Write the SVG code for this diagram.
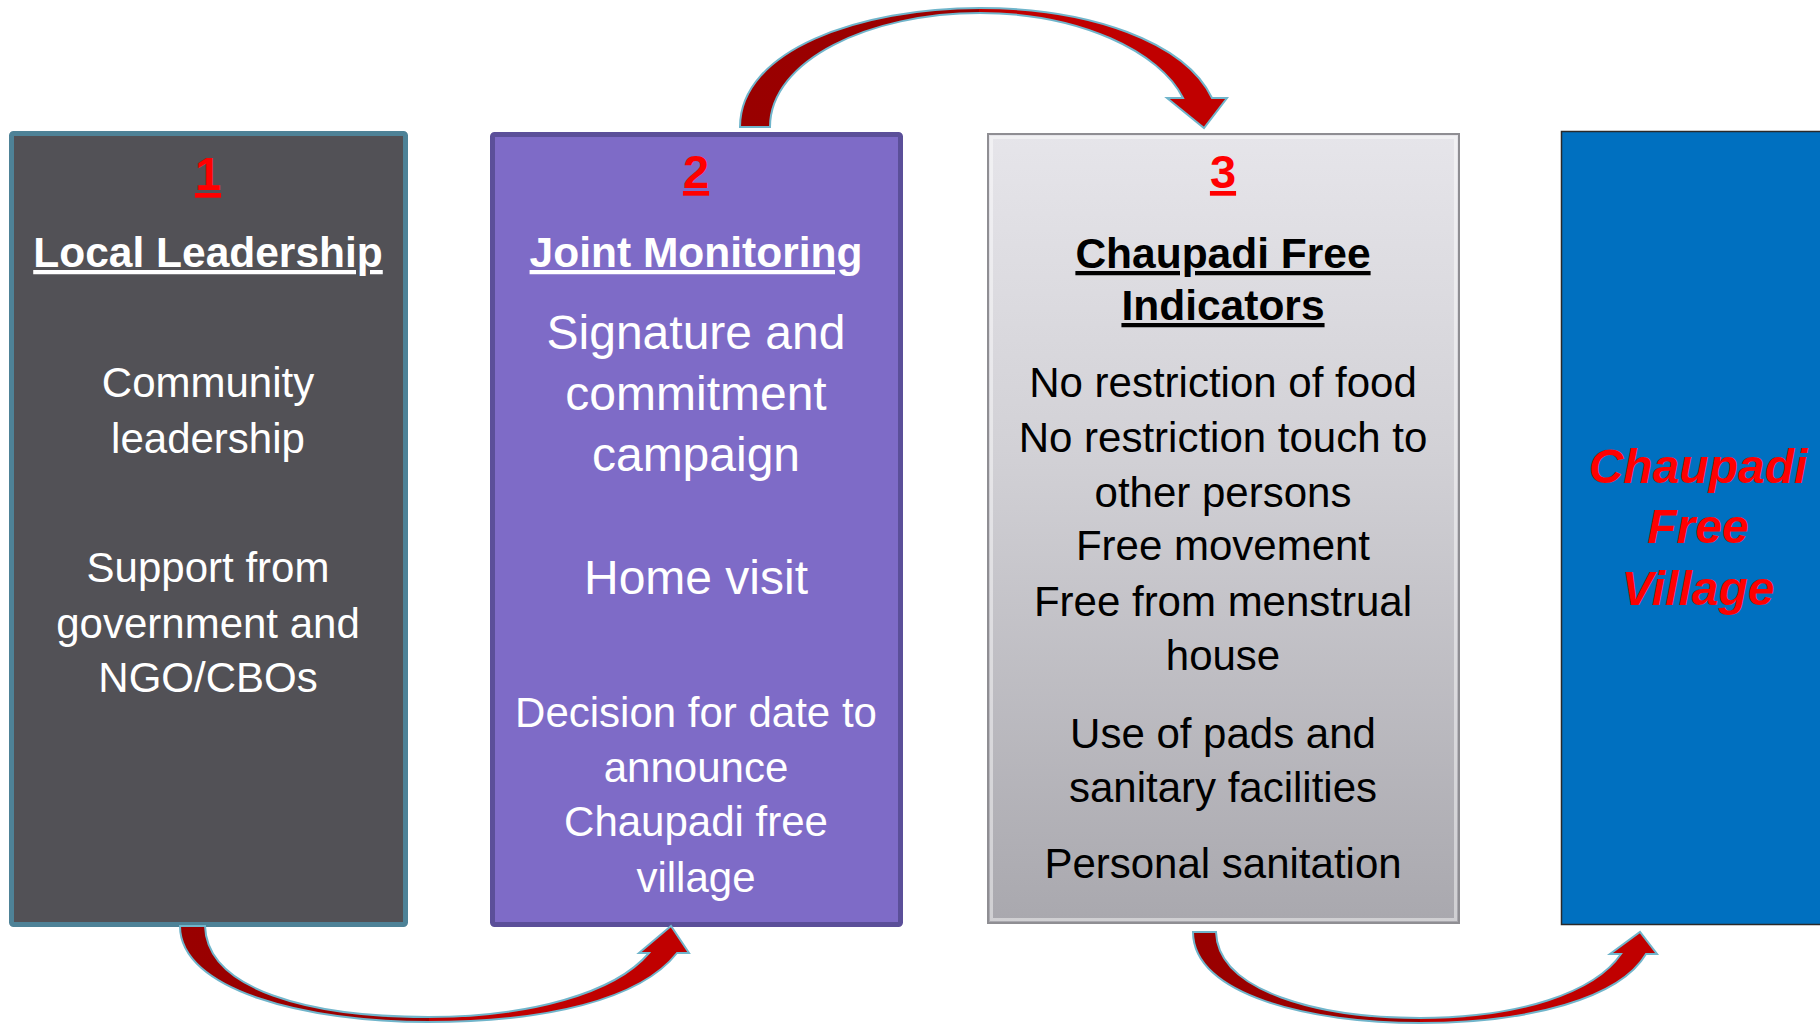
<svg xmlns="http://www.w3.org/2000/svg" width="1820" height="1025" viewBox="0 0 1820 1025">
  <style>
    text { font-family: "Liberation Sans", Arial, sans-serif; text-anchor: middle; }
    .num { font-size: 47px; font-weight: bold; fill: #ff0000; text-decoration: underline; }
    .head { font-size: 42.5px; font-weight: bold; text-decoration: underline; }
    .w { fill: #ffffff; }
    .k { fill: #000000; }
    .b42 { font-size: 42px; }
    .b48 { font-size: 48px; }
    .goal { font-size: 48px; font-weight: bold; font-style: italic; fill: #ff0000; }
    .arrow { fill: url(#arrowFill); stroke: #70b5cb; stroke-width: 2; stroke-linejoin: miter; }
  </style>
  <defs>
    <linearGradient id="arrowFill" x1="0" y1="0" x2="1" y2="0">
      <stop offset="0" stop-color="#990000"/>
      <stop offset="0.49" stop-color="#9c0000"/>
      <stop offset="0.49" stop-color="#c00000"/>
      <stop offset="1" stop-color="#c00000"/>
    </linearGradient>
    <linearGradient id="greyFill" x1="0" y1="0" x2="0" y2="1">
      <stop offset="0" stop-color="#e6e5ea"/>
      <stop offset="0.4" stop-color="#d2d1d6"/>
      <stop offset="1" stop-color="#a9a8ae"/>
    </linearGradient>
  </defs>
  <rect width="1820" height="1025" fill="#ffffff"/>

  <g id="node1">
    <rect x="11.5" y="133.5" width="394" height="791" rx="2" fill="#525156" stroke="#4e8297" stroke-width="5"/>
    <text class="num" x="208" y="190">1</text>
    <text class="head w" x="208" y="267">Local Leadership</text>
    <text class="w b42" x="208" y="397">Community</text>
    <text class="w b42" x="208" y="453">leadership</text>
    <text class="w b42" x="208" y="582">Support from</text>
    <text class="w b42" x="208" y="638">government and</text>
    <text class="w b42" x="208" y="692">NGO/CBOs</text>
  </g>

  <g id="node2">
    <rect x="492.5" y="134.5" width="408" height="790" rx="2" fill="#7e6bc7" stroke="#5b4f99" stroke-width="5"/>
    <text class="num" x="696" y="188">2</text>
    <text class="head w" x="696" y="267">Joint Monitoring</text>
    <text class="w b48" x="696" y="349">Signature and</text>
    <text class="w b48" x="696" y="410">commitment</text>
    <text class="w b48" x="696" y="471">campaign</text>
    <text class="w b48" x="696" y="594">Home visit</text>
    <text class="w b42" x="696" y="727">Decision for date to</text>
    <text class="w b42" x="696" y="782">announce</text>
    <text class="w b42" x="696" y="836">Chaupadi free</text>
    <text class="w b42" x="696" y="892">village</text>
  </g>

  <g id="node3">
    <rect x="988" y="134" width="471" height="789" fill="url(#greyFill)" stroke="#8f8e93" stroke-width="2"/>
    <rect x="991.5" y="137.5" width="464" height="782" fill="none" stroke="#ffffff" stroke-opacity="0.45" stroke-width="3"/>
    <text class="num" x="1223" y="188">3</text>
    <text class="head k" x="1223" y="268">Chaupadi Free</text>
    <text class="head k" x="1223" y="320">Indicators</text>
    <text class="k b42" x="1223" y="397">No restriction of food</text>
    <text class="k b42" x="1223" y="452">No restriction touch to</text>
    <text class="k b42" x="1223" y="507">other persons</text>
    <text class="k b42" x="1223" y="560">Free movement</text>
    <text class="k b42" x="1223" y="616">Free from menstrual</text>
    <text class="k b42" x="1223" y="670">house</text>
    <text class="k b42" x="1223" y="748">Use of pads and</text>
    <text class="k b42" x="1223" y="802">sanitary facilities</text>
    <text class="k b42" x="1223" y="878">Personal sanitation</text>
  </g>

  <g id="node4">
    <rect x="1561.5" y="131.5" width="262" height="793" fill="#0070c0" stroke="#2a2a2a" stroke-width="1.5"/>
    <text class="goal" x="1698" y="483">Chaupadi</text>
    <text class="goal" x="1698" y="543">Free</text>
    <text class="goal" x="1698" y="605">Village</text>
  </g>

  <g id="connectors">
    <path class="arrow" d="M740,127 C740,50 860,8 980,8 C1090,8 1185,42 1212,98 L1227,98 L1204,128 L1167,98 L1183,98 C1160,52 1080,13 980,13 C870,13 770,60 770,127 Z"/>
    <path class="arrow" d="M180,926 C180,990 305,1022 428,1022 C545,1022 640,1000 677,953 L689,953 L671,926 L639,953 L649,953 C615,993 530,1017 428,1017 C310,1017 207,990 205,926 Z"/>
    <path class="arrow" d="M1193,932 C1193,995 1310,1023 1420,1023 C1530,1023 1620,998 1646,954 L1657,954 L1640,932 L1610,954 L1621,954 C1595,992 1520,1018 1420,1018 C1320,1018 1218,992 1216,932 Z"/>
  </g>
</svg>
